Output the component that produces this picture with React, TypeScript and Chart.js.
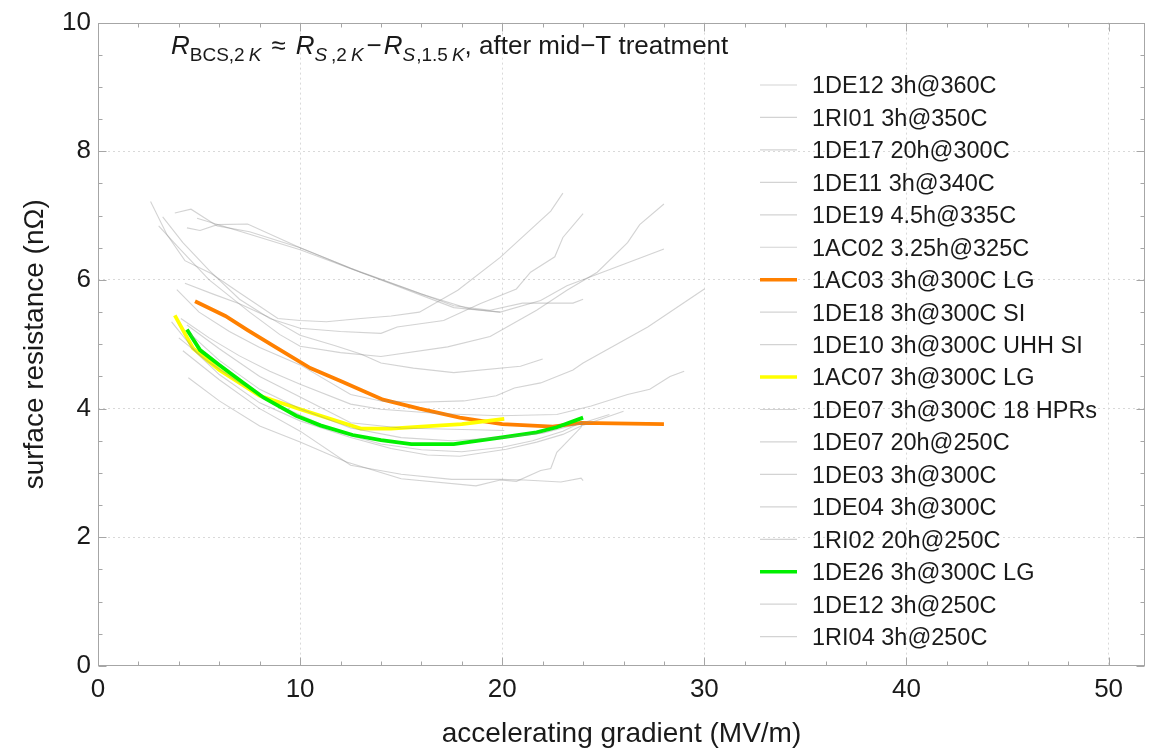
import React, { useEffect, useRef } from 'react';
import { Chart, registerables } from 'chart.js';

Chart.register(...registerables);

const FONT = '"Liberation Sans", Arial, sans-serif';

// ---- series labels (legend order) ----
const seriesLabels = [
  '1DE12 3h@360C',
  '1RI01 3h@350C',
  '1DE17 20h@300C',
  '1DE11 3h@340C',
  '1DE19 4.5h@335C',
  '1AC02 3.25h@325C',
  '1AC03 3h@300C LG',
  '1DE18 3h@300C SI',
  '1DE10 3h@300C UHH SI',
  '1AC07 3h@300C LG',
  '1DE07 3h@300C 18 HPRs',
  '1DE07 20h@250C',
  '1DE03 3h@300C',
  '1DE04 3h@300C',
  '1RI02 20h@250C',
  '1DE26 3h@300C LG',
  '1DE12 3h@250C',
  '1RI04 3h@250C',
];

const GRAY = 'rgba(140,140,140,0.38)';
const seriesColors = [
  GRAY, GRAY, GRAY, GRAY, GRAY, GRAY,
  '#ff8000',
  GRAY, GRAY,
  '#ffff00',
  GRAY, GRAY, GRAY, GRAY, GRAY,
  '#00f000',
  GRAY, GRAY,
];

// ---- gradient (MV/m) and surface resistance (nΩ) per cavity ----
const g01 = [3.8, 4.6, 5.9, 7.5, 10, 12.5, 15, 17.6, 19.4, 21.0, 23.5, 24.0];
const r01 = [7.04, 7.1, 6.84, 6.75, 6.5, 6.18, 5.9, 5.6, 5.53, 5.64, 5.64, 5.7];

const g02 = [4.4, 5.05, 5.9, 7.4, 10, 13, 16, 18.4, 19.9];
const r02 = [6.81, 6.77, 6.86, 6.87, 6.5, 6.12, 5.78, 5.55, 5.5];

const g03 = [4.9, 7.5, 10, 14, 17.6, 19.9, 21.9, 23.2, 24.7, 28.0];
const r03 = [6.96, 6.71, 6.47, 6.0, 5.57, 5.5, 5.68, 5.91, 6.09, 6.48];

const g04 = [2.6, 3.4, 4.3, 5.6, 7.0, 8.9, 10, 11.3, 13, 14.5, 15.9, 17.8, 19.9, 22.4, 23.0];
const r04 = [7.22, 6.71, 6.3, 6.1, 5.8, 5.4, 5.37, 5.35, 5.4, 5.44, 5.5, 5.84, 6.35, 7.07, 7.35];

const g05 = [3.2, 4.2, 5.5, 7.0, 8.5, 10, 12, 14, 14.8, 17.1, 18.9, 20.7, 21.4, 22.6, 23.0, 24.0];
const r05 = [6.98, 6.58, 6.15, 5.7, 5.4, 5.25, 5.2, 5.17, 5.27, 5.37, 5.63, 5.86, 6.12, 6.36, 6.66, 7.03];

const g06 = [3.0, 4.0, 5.5, 7.5, 9.0, 10, 12, 14, 17.3, 19.4, 21.7, 23.2, 24.7, 26.2, 26.8, 28.0];
const r06 = [6.84, 6.5, 6.0, 5.5, 5.15, 4.97, 4.87, 4.81, 4.96, 5.12, 5.53, 5.84, 6.12, 6.58, 6.86, 7.18];

const g07 = [4.8, 6.3, 7.4, 8.7, 10.5, 12.0, 14.1, 15.9, 17.9, 20.0, 22.5, 23.9, 28.0];
const r07 = [5.67, 5.44, 5.22, 4.97, 4.63, 4.43, 4.14, 4.0, 3.86, 3.76, 3.72, 3.78, 3.76];

const g08 = [4.3, 5.7, 7.0, 8.4, 10, 11.7, 13, 14, 15.6, 17.6, 20.9, 22.0];
const r08 = [5.95, 5.78, 5.63, 5.43, 5.14, 4.98, 4.85, 4.71, 4.63, 4.56, 4.66, 4.77];

const g09 = [3.9, 5.0, 6.5, 8.0, 10, 12.5, 14, 15.8, 18.1, 19.7, 20.6, 21.9, 23.5, 24.0, 27.2, 30.0];
const r09 = [5.85, 5.5, 5.2, 4.95, 4.68, 4.22, 4.12, 4.1, 4.12, 4.2, 4.32, 4.4, 4.6, 4.71, 5.27, 5.86];

const g10 = [3.8, 4.7, 6.0, 8.0, 10.0, 13.0, 14.5, 16.0, 18.0, 20.1];
const r10 = [5.45, 4.94, 4.6, 4.2, 3.99, 3.69, 3.69, 3.72, 3.76, 3.84];

const g11 = [4.1, 5.5, 7.0, 8.5, 10, 12.5, 14, 17, 19.9, 22.7, 24.4, 26.2, 27.3, 28.3, 29.0];
const r11 = [5.4, 5.1, 4.82, 4.58, 4.38, 4.07, 3.99, 3.92, 3.89, 3.91, 4.04, 4.22, 4.3, 4.5, 4.58];

const g12 = [4.4, 6.0, 8.0, 10, 12.5, 15, 17.5, 20.1];
const r12 = [5.3, 4.93, 4.5, 4.18, 3.78, 3.7, 3.68, 3.66];

const g13 = [3.64, 4.9, 6.0, 8.0, 10, 12.5, 14.5, 16.3, 17.9, 20.2, 21.7, 23.0, 23.9, 26.0];
const r13 = [5.35, 4.86, 4.53, 4.09, 3.81, 3.55, 3.38, 3.28, 3.26, 3.37, 3.48, 3.6, 3.73, 3.96];

const g14 = [4.0, 5.5, 7.0, 8.5, 10, 12, 14, 16, 18, 20, 21.5, 23, 24.0];
const r14 = [5.1, 4.72, 4.4, 4.12, 3.9, 3.62, 3.45, 3.36, 3.33, 3.4, 3.5, 3.65, 3.8];

const g15 = [4.47, 6.0, 8.0, 10, 12.3, 15, 18.7, 19.9, 20.7, 21.9, 22.4, 22.7, 23.9, 23.95];
const r15 = [4.48, 4.12, 3.73, 3.48, 3.17, 2.91, 2.8, 2.89, 2.87, 3.04, 3.07, 3.32, 3.71, 3.78];

const g16 = [4.4, 5.05, 6.0, 7.2, 8.2, 9.8, 11.0, 12.6, 14.0, 15.5, 17.6, 19.9, 21.7, 22.7, 24.0];
const r16 = [5.23, 4.91, 4.68, 4.4, 4.17, 3.89, 3.74, 3.59, 3.51, 3.45, 3.45, 3.55, 3.63, 3.71, 3.86];

const g17 = [4.2, 6.0, 8.0, 10, 12.5, 15, 17.5, 19.9, 21.1, 22.9, 23.9, 24.0];
const r17 = [4.9, 4.45, 4.0, 3.65, 3.12, 2.98, 2.9, 2.9, 2.89, 2.86, 2.92, 2.88];

const g18 = [4.6, 6.0, 8.0, 10, 12.5, 15, 17.5, 20, 22, 24, 25.3];
const r18 = [5.15, 4.75, 4.3, 4.0, 3.7, 3.55, 3.5, 3.55, 3.62, 3.78, 3.91];

const gradients = [g01, g02, g03, g04, g05, g06, g07, g08, g09, g10, g11, g12, g13, g14, g15, g16, g17, g18];
const resistances = [r01, r02, r03, r04, r05, r06, r07, r08, r09, r10, r11, r12, r13, r14, r15, r16, r17, r18];

// ---- axes ----
const xMin = 0;
const xMax = 51.8;
const yMin = 0;
const yMax = 10;
const xMajor = [0, 10, 20, 30, 40, 50];
const yMajor = [0, 2, 4, 6, 8, 10];

// title pieces: text, italic, subscript, gap before (px)
const titleSegments = [
  { t: 'R', it: true, sub: false, gap: 0 },
  { t: 'BCS,2', it: false, sub: true, gap: 0 },
  { t: 'K', it: true, sub: true, gap: 4 },
  { t: '\u2248', it: false, sub: false, gap: 10 },
  { t: 'R', it: true, sub: false, gap: 10 },
  { t: 'S', it: true, sub: true, gap: 0 },
  { t: ',2', it: false, sub: true, gap: 4 },
  { t: 'K', it: true, sub: true, gap: 4 },
  { t: '\u2212', it: false, sub: false, gap: 3 },
  { t: 'R', it: true, sub: false, gap: 2 },
  { t: 'S', it: true, sub: true, gap: 0 },
  { t: ',1.5', it: false, sub: true, gap: 1 },
  { t: 'K', it: true, sub: true, gap: 4 },
  { t: ', after mid\u2212T treatment', it: false, sub: false, gap: 0 },
];

const overlayPlugin = {
  id: 'overlay',
  afterDraw(chart: any) {
    const { ctx, chartArea: a } = chart;
    const xs = chart.scales.x;
    const ys = chart.scales.y;
    ctx.save();
    // frame
    ctx.strokeStyle = '#a6a6a6';
    ctx.lineWidth = 1;
    const L = Math.round(a.left) + 0.5;
    const R = Math.round(a.right) - 0.5;
    const T = Math.round(a.top) + 0.5;
    const B = Math.round(a.bottom) - 0.5;
    ctx.strokeRect(L, T, R - L, B - T);
    // ticks
    ctx.beginPath();
    for (let v = 0; v <= 50 + 1e-9; v += 2) {
      const px = Math.round(xs.getPixelForValue(v)) + 0.5;
      const len = xMajor.includes(v) ? 8 : 4;
      ctx.moveTo(px, B); ctx.lineTo(px, B - len);
      ctx.moveTo(px, T); ctx.lineTo(px, T + len);
    }
    for (let k = 0; k <= 20; k++) {
      const v = k * 0.5;
      const py = Math.round(ys.getPixelForValue(v)) + 0.5;
      const len = yMajor.includes(v) ? 8 : 4;
      ctx.moveTo(L, py); ctx.lineTo(L + len, py);
      ctx.moveTo(R, py); ctx.lineTo(R - len, py);
    }
    ctx.stroke();

    // legend
    const ds = chart.data.datasets;
    ctx.font = `23.5px ${FONT}`;
    ctx.textBaseline = 'alphabetic';
    ctx.textAlign = 'left';
    for (let i = 0; i < ds.length; i++) {
      const y = 85 + i * 32.45;
      ctx.strokeStyle = ds[i].borderColor;
      ctx.lineWidth = ds[i].borderWidth > 2 ? 3.5 : 1.2;
      ctx.beginPath();
      ctx.moveTo(760, y);
      ctx.lineTo(797, y);
      ctx.stroke();
      ctx.fillStyle = '#1a1a1a';
      ctx.fillText(ds[i].label, 812, y + 8.4);
    }

    // title
    let x = 171;
    const base = 54;
    ctx.fillStyle = '#1a1a1a';
    for (const s of titleSegments) {
      const size = s.sub ? 19 : 26;
      ctx.font = `${s.it ? 'italic ' : ''}${size}px ${FONT}`;
      x += s.gap;
      ctx.fillText(s.t, x, s.sub ? base + 6.5 : base);
      x += ctx.measureText(s.t).width;
    }
    ctx.restore();
  },
};

export default function App() {
  const ref = useRef<HTMLCanvasElement>(null);
  useEffect(() => {
    document.body.style.margin = '0';
    const canvas = ref.current!;
    const datasets = seriesLabels.map((label, i) => {
      const hi = seriesColors[i] !== GRAY;
      return {
        label,
        data: gradients[i].map((g, j) => ({ x: g, y: resistances[i][j] })),
        borderColor: seriesColors[i],
        backgroundColor: seriesColors[i],
        borderWidth: hi ? 3.8 : 1.1,
        pointRadius: 0,
        tension: 0,
        fill: false,
        order: -i,
      };
    });
    const chart = new Chart(canvas, {
      type: 'line',
      data: { datasets },
      options: {
        animation: false,
        responsive: false,
        devicePixelRatio: 1,
        layout: { padding: { left: 0, right: 8, top: 16, bottom: 0 } },
        plugins: { legend: { display: false }, tooltip: { enabled: false } },
        scales: {
          x: {
            type: 'linear',
            min: xMin,
            max: xMax,
            afterFit: (s: any) => { s.height = 85; },
            ticks: {
              stepSize: 2,
              autoSkip: false,
              maxRotation: 0,
              includeBounds: false,
              padding: 8,
              color: '#1a1a1a',
              font: { family: FONT, size: 26 },
              callback: (v: any) => (xMajor.includes(Number(v)) ? String(v) : ''),
            },
            grid: {
              drawTicks: false,
              color: (c: any) => (c.tick && xMajor.includes(c.tick.value) && c.tick.value > 0 ? '#d9d9d9' : 'rgba(0,0,0,0)'),
              lineWidth: 1,
            },
            border: { display: false, dash: [2, 3] },
            title: {
              display: true,
              text: 'accelerating gradient (MV/m)',
              color: '#1a1a1a',
              font: { family: FONT, size: 28 },
              padding: { top: 0, bottom: 0 },
            },
          },
          y: {
            type: 'linear',
            min: yMin,
            max: yMax,
            afterFit: (s: any) => { s.width = 98; },
            ticks: {
              stepSize: 0.5,
              autoSkip: false,
              includeBounds: false,
              padding: 7,
              color: '#1a1a1a',
              font: { family: FONT, size: 26 },
              callback: (v: any) => (yMajor.includes(Number(v)) ? String(v) : ''),
            },
            grid: {
              drawTicks: false,
              color: (c: any) => (c.tick && yMajor.includes(c.tick.value) && c.tick.value > 0 && c.tick.value < 10 ? '#d9d9d9' : 'rgba(0,0,0,0)'),
              lineWidth: 1,
            },
            border: { display: false, dash: [2, 3] },
            title: {
              display: true,
              text: 'surface resistance (n\u03a9)',
              color: '#1a1a1a',
              font: { family: FONT, size: 28 },
              padding: { top: 18, bottom: 0 },
            },
          },
        },
      },
      plugins: [overlayPlugin],
    });
    return () => chart.destroy();
  }, []);
  return (
    <div style={{ position: 'absolute', left: 0, top: 0, width: 1153, height: 751 }}>
      <canvas ref={ref} width={1153} height={751} style={{ display: 'block' }} />
    </div>
  );
}
